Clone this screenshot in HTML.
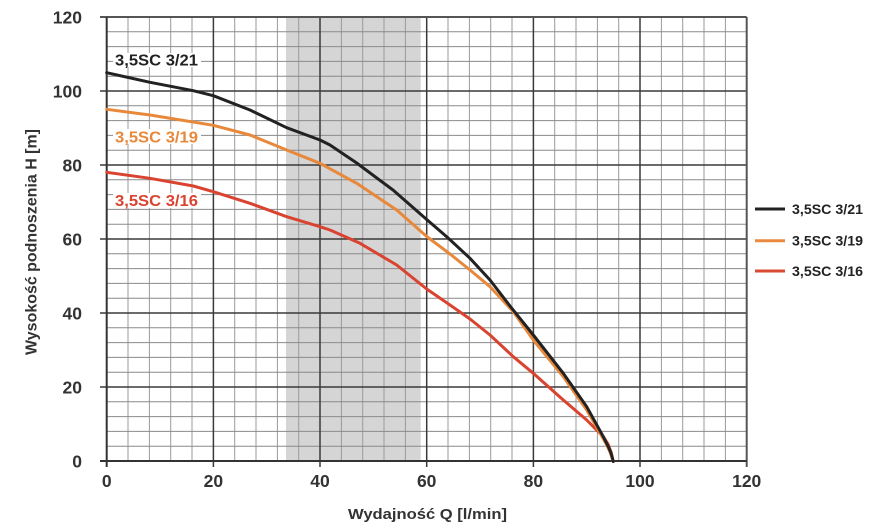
<!DOCTYPE html>
<html><head><meta charset="utf-8"><style>
html,body{margin:0;padding:0;background:#fff;}
svg{display:block;}
text{font-family:"Liberation Sans",sans-serif;font-weight:bold;}
</style></head><body>
<svg width="879" height="532" viewBox="0 0 879 532" xmlns="http://www.w3.org/2000/svg">
<rect x="0" y="0" width="879" height="532" fill="#fff"/>
<rect x="286" y="17" width="134.7" height="444" fill="#d5d5d5"/>
<g stroke="#9a9a9a" stroke-width="1">
<line x1="128.0" y1="17" x2="128.0" y2="461"/><line x1="149.4" y1="17" x2="149.4" y2="461"/><line x1="170.7" y1="17" x2="170.7" y2="461"/><line x1="192.0" y1="17" x2="192.0" y2="461"/>
<line x1="234.7" y1="17" x2="234.7" y2="461"/><line x1="256.0" y1="17" x2="256.0" y2="461"/><line x1="277.4" y1="17" x2="277.4" y2="461"/><line x1="298.7" y1="17" x2="298.7" y2="461"/>
<line x1="341.4" y1="17" x2="341.4" y2="461"/><line x1="362.7" y1="17" x2="362.7" y2="461"/><line x1="384.0" y1="17" x2="384.0" y2="461"/><line x1="405.4" y1="17" x2="405.4" y2="461"/>
<line x1="448.0" y1="17" x2="448.0" y2="461"/><line x1="469.4" y1="17" x2="469.4" y2="461"/><line x1="490.7" y1="17" x2="490.7" y2="461"/><line x1="512.0" y1="17" x2="512.0" y2="461"/>
<line x1="554.7" y1="17" x2="554.7" y2="461"/><line x1="576.0" y1="17" x2="576.0" y2="461"/><line x1="597.4" y1="17" x2="597.4" y2="461"/><line x1="618.7" y1="17" x2="618.7" y2="461"/>
<line x1="661.4" y1="17" x2="661.4" y2="461"/><line x1="682.7" y1="17" x2="682.7" y2="461"/><line x1="704.0" y1="17" x2="704.0" y2="461"/><line x1="725.4" y1="17" x2="725.4" y2="461"/>
</g>
<g stroke="#8a8a8a" stroke-width="1">
<line x1="106.7" y1="446.2" x2="746.7" y2="446.2"/><line x1="106.7" y1="431.4" x2="746.7" y2="431.4"/><line x1="106.7" y1="416.6" x2="746.7" y2="416.6"/><line x1="106.7" y1="401.8" x2="746.7" y2="401.8"/>
<line x1="106.7" y1="372.2" x2="746.7" y2="372.2"/><line x1="106.7" y1="357.4" x2="746.7" y2="357.4"/><line x1="106.7" y1="342.6" x2="746.7" y2="342.6"/><line x1="106.7" y1="327.8" x2="746.7" y2="327.8"/>
<line x1="106.7" y1="298.2" x2="746.7" y2="298.2"/><line x1="106.7" y1="283.4" x2="746.7" y2="283.4"/><line x1="106.7" y1="268.6" x2="746.7" y2="268.6"/><line x1="106.7" y1="253.8" x2="746.7" y2="253.8"/>
<line x1="106.7" y1="224.2" x2="746.7" y2="224.2"/><line x1="106.7" y1="209.4" x2="746.7" y2="209.4"/><line x1="106.7" y1="194.6" x2="746.7" y2="194.6"/><line x1="106.7" y1="179.8" x2="746.7" y2="179.8"/>
<line x1="106.7" y1="150.2" x2="746.7" y2="150.2"/><line x1="106.7" y1="135.4" x2="746.7" y2="135.4"/><line x1="106.7" y1="120.6" x2="746.7" y2="120.6"/><line x1="106.7" y1="105.8" x2="746.7" y2="105.8"/>
<line x1="106.7" y1="76.2" x2="746.7" y2="76.2"/><line x1="106.7" y1="61.4" x2="746.7" y2="61.4"/><line x1="106.7" y1="46.6" x2="746.7" y2="46.6"/><line x1="106.7" y1="31.8" x2="746.7" y2="31.8"/>
</g>
<g stroke="#3a3a3a" stroke-width="1.5">
<line x1="213.4" y1="17" x2="213.4" y2="467"/><line x1="320.0" y1="17" x2="320.0" y2="467"/><line x1="426.7" y1="17" x2="426.7" y2="467"/><line x1="533.4" y1="17" x2="533.4" y2="467"/><line x1="640.0" y1="17" x2="640.0" y2="467"/>
<line x1="100" y1="387" x2="746.7" y2="387"/><line x1="100" y1="313" x2="746.7" y2="313"/><line x1="100" y1="239" x2="746.7" y2="239"/><line x1="100" y1="165" x2="746.7" y2="165"/><line x1="100" y1="91" x2="746.7" y2="91"/>
</g>
<g stroke="#555" stroke-width="2">
<line x1="100" y1="17" x2="746.7" y2="17"/>
<line x1="746.7" y1="17" x2="746.7" y2="467"/>
</g>
<g stroke="#333" stroke-width="2">
<line x1="106.7" y1="17" x2="106.7" y2="467"/>
<line x1="100" y1="461" x2="746.7" y2="461"/>
</g>
<!-- on-chart label backgrounds -->
<rect x="113" y="53" width="88" height="14" fill="#fff"/>
<rect x="113" y="129" width="88" height="15" fill="#fff"/>
<rect x="113" y="193" width="88" height="15" fill="#fff"/>
<g fill="none" stroke-width="3" stroke-linejoin="round" stroke-linecap="round">
<polyline stroke="#d9432f" points="106.7,172.3 150,178.3 193.3,186 213.3,191.7 250,203.3 286.7,216.7 320,226.7 330,230 360,243.3 396.7,265 426.7,289 450,305 470,319 490,335 513.3,356.7 533.3,373.3 563.3,400 586.7,420 603.3,436.7 608,444 611,452 613.3,461.5"/>
<polyline stroke="#e8883b" points="106.7,109.3 150,115 213.3,125.3 250,135 286.7,150 320,163.3 356.7,183.3 396.7,210 426.7,236.5 450,254 470,270 490,286.7 513.3,311.7 533.3,340 563.3,376.7 586.7,410 600,433 606.7,445 610,452 613.3,461.5"/>
<polyline stroke="#222" points="106.7,72.7 150,82.3 193.3,90.7 213.3,95.7 250,110 286.7,127.7 320,140 330,145 356.7,163 393,190 426.7,219.5 446.7,236.7 470,258.3 490,280 510,306 533.3,335 563.3,373.3 586.7,406.7 603.3,436.7 608.3,446.7 611,453 613.3,461.5"/>
</g>
<g font-size="16">
<text x="115" y="65.7" fill="#222" textLength="83" lengthAdjust="spacingAndGlyphs">3,5SC 3/21</text>
<text x="115" y="142.4" fill="#e8883b" textLength="83" lengthAdjust="spacingAndGlyphs">3,5SC 3/19</text>
<text x="115" y="206.2" fill="#d9432f" textLength="83" lengthAdjust="spacingAndGlyphs">3,5SC 3/16</text>
</g>
<g font-size="17.5" fill="#333" text-anchor="end">
<text x="82" y="467.3">0</text>
<text x="82" y="393.3">20</text>
<text x="82" y="319.3">40</text>
<text x="82" y="245.3">60</text>
<text x="82" y="171.3">80</text>
<text x="82" y="97.3">100</text>
<text x="82" y="23.3">120</text>
</g>
<g font-size="17.5" fill="#333" text-anchor="middle">
<text x="106.7" y="487">0</text>
<text x="213.4" y="487">20</text>
<text x="320" y="487">40</text>
<text x="426.7" y="487">60</text>
<text x="533.4" y="487">80</text>
<text x="640" y="487">100</text>
<text x="746.7" y="487">120</text>
</g>
<text x="427.5" y="519" font-size="15" fill="#333" text-anchor="middle" textLength="159" lengthAdjust="spacingAndGlyphs">Wydajność Q [l/min]</text>
<text transform="translate(36.7,242) rotate(-90)" x="0" y="0" font-size="15.5" fill="#333" text-anchor="middle" textLength="226" lengthAdjust="spacingAndGlyphs">Wysokość podnoszenia H [m]</text>
<g stroke-width="3">
<line x1="755" y1="209" x2="785" y2="209" stroke="#222"/>
<line x1="755" y1="240.7" x2="785" y2="240.7" stroke="#eb8a3e"/>
<line x1="755" y1="271" x2="785" y2="271" stroke="#d94a33"/>
</g>
<g font-size="14" fill="#222">
<text x="792" y="214" textLength="71" lengthAdjust="spacingAndGlyphs">3,5SC 3/21</text>
<text x="792" y="245.7" textLength="71" lengthAdjust="spacingAndGlyphs">3,5SC 3/19</text>
<text x="792" y="276" textLength="71" lengthAdjust="spacingAndGlyphs">3,5SC 3/16</text>
</g>
</svg>
</body></html>
